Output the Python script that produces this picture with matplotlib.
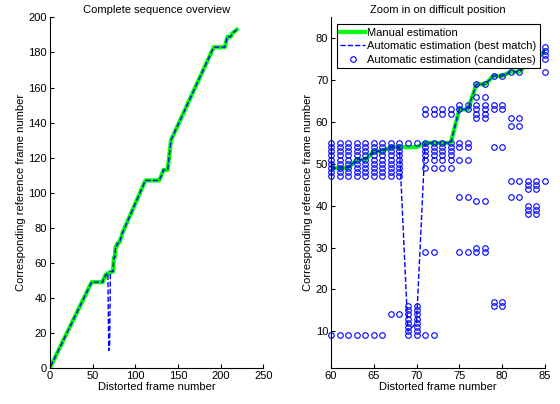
import numpy as np
import matplotlib
matplotlib.use("Agg")
import matplotlib.pyplot as plt

plt.rcParams['font.family'] = ['Liberation Sans', 'DejaVu Sans']
plt.rcParams['font.size'] = 8

# zoomed region: per-frame manual estimate, best match and candidates
zoom_frames = list(range(60, 86))
zoom_manual = [49, 49, 49, 51, 51, 53, 53, 54, 54, 54, 54, 55, 55, 55, 55,
               63, 63, 69, 69, 71, 71, 72, 72, 74, 75, 77]
zoom_best = [49, 49, 49, 51, 51, 53, 53, 54, 54, 10, 12, 55, 55, 55, 55,
             63, 63, 69, 69, 71, 71, 72, 72, 74, 75, 77]
block_a = [47, 48, 49, 50, 51, 52, 53, 54, 55]
block_b = [49, 51, 52, 53, 54, 55, 62, 63]
zoom_candidates = [
    [9] + block_a, [9] + block_a, [9] + block_a, [9] + block_a,
    [9] + block_a, [9] + block_a, [9] + block_a,
    [14] + block_a, [14] + block_a,
    [9, 10, 11, 12, 13, 14, 15, 16, 55], [9, 10, 11, 12, 13, 14, 15, 16, 55],
    [9, 29] + block_b, [9, 29] + block_b, block_b, block_b,
    [29, 42, 51, 54, 55, 63, 64], [29, 42, 51, 54, 55, 63, 64],
    [29, 30, 41, 61, 62, 63, 64, 66, 69], [29, 30, 41, 61, 62, 63, 64, 66, 69],
    [16, 17, 54, 63, 64, 71], [16, 17, 54, 63, 64, 71],
    [42, 46, 59, 61, 72], [42, 46, 59, 61, 72],
    [38, 39, 40, 44, 45, 46, 74, 75, 76, 77],
    [38, 39, 40, 44, 45, 46, 75, 76, 77, 78],
    [46, 72, 75, 76, 77, 78],
]

# full sequence: vertices before and after the zoomed region
head_frames = [1, 49]
head_values = [1, 49]
tail_frames = [112, 128, 131, 133, 138, 142, 192, 205, 208, 212, 214, 219]
tail_values = [107, 107, 110, 113, 113, 130, 183, 183, 189, 189, 191, 193]
tail_best = [107, 107, 110, 113, 113, 130, 183, 183, 189, 189, 191, 193]

full_frames = head_frames + zoom_frames + tail_frames
full_manual = head_values + zoom_manual + tail_values
full_best = head_values + zoom_best + tail_best

fig = plt.figure(figsize=(5.6, 4.04), dpi=100)
ax1 = fig.add_axes([0.089, 0.089, 0.381, 0.868])
ax2 = fig.add_axes([0.591, 0.089, 0.382, 0.868])

ax1.plot(full_frames, full_manual, color=(0, 1, 0), lw=3)
ax1.plot(full_frames, full_best, 'b--', lw=1)
ax1.set_xlim(0, 250)
ax1.set_ylim(0, 200)
ax1.set_xticks(range(0, 251, 50))
ax1.set_yticks(range(0, 201, 20))
ax1.set_title("Complete sequence overview", fontsize=8, pad=3)
ax1.set_xlabel("Distorted frame number", labelpad=1)
ax1.set_ylabel("Corresponding reference frame number", labelpad=2)

ax2.plot(zoom_frames, zoom_manual, color=(0, 1, 0), lw=3, label="Manual estimation")
ax2.plot(zoom_frames, zoom_best, 'b--', lw=1, label="Automatic estimation (best match)")
cx = [f for f, ys in zip(zoom_frames, zoom_candidates) for y in ys]
cy = [y for ys in zoom_candidates for y in ys]
ax2.plot(cx, cy, 'o', mfc='none', mec='b', ms=4, mew=0.8, ls='none',
         label="Automatic estimation (candidates)", clip_on=False)
ax2.set_xlim(60, 85)
ax2.set_ylim(1.2, 85)
ax2.set_xticks(range(60, 86, 5))
ax2.set_yticks(range(10, 81, 10))
ax2.set_title("Zoom in on difficult position", fontsize=8, pad=3)
ax2.set_xlabel("Distorted frame number", labelpad=1)
ax2.set_ylabel("Corresponding reference frame number", labelpad=2)
leg = ax2.legend(loc='upper left', bbox_to_anchor=(0.028, 0.98), fontsize=8,
                 fancybox=False, framealpha=1, edgecolor='black',
                 borderpad=0.3, labelspacing=0.32, handlelength=2.2,
                 handletextpad=0.2, borderaxespad=0)
leg.get_frame().set_linewidth(0.8)
leg.set_zorder(5)

for ax in (ax1, ax2):
    ax.spines['top'].set_visible(False)
    ax.spines['right'].set_visible(False)
    ax.tick_params(direction='in', length=3, labelsize=8, pad=2)

fig.savefig("out.png", dpi=100)
